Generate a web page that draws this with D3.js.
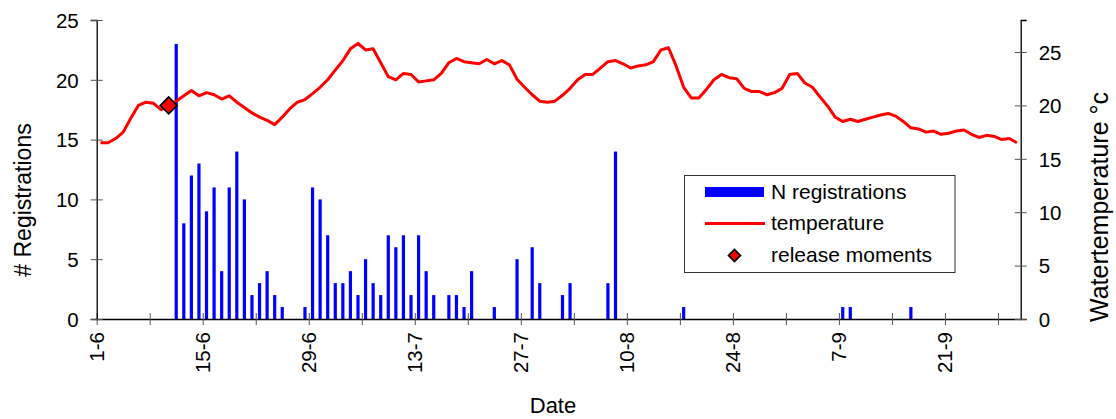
<!DOCTYPE html>
<html>
<head>
<meta charset="utf-8">
<script src="https://cdn.jsdelivr.net/npm/d3@7"></script>
<style>
  html, body { margin: 0; padding: 0; background: #fff; }
  svg { display: block; font-family: "Liberation Sans", Arial, sans-serif; }
</style>
</head>
<body>
<svg id="chart" width="1116" height="419"></svg>
<script>
// ---------- DATA ----------
const startDate = "2000-06-01";
const endDate = "2000-10-01";
// daily water temperature (°C), 1-6 .. 30-9
const temperature = [
  16.5, 16.5, 16.9, 17.5, 18.8, 20.0, 20.3, 20.2, 19.6, 20.0,
  20.4, 20.9, 21.4, 20.9, 21.2, 21.0, 20.6, 20.9, 20.3, 19.8,
  19.3, 18.9, 18.6, 18.2, 18.9, 19.7, 20.3, 20.55, 21.1, 21.7,
  22.4, 23.3, 24.2, 25.3, 25.8, 25.2, 25.3, 24.0, 22.7, 22.4,
  23.0, 22.9, 22.2, 22.3, 22.4, 23.0, 24.0, 24.4, 24.1, 24.0,
  23.9, 24.3, 23.9, 24.2, 23.8, 22.45, 21.7, 21.0, 20.4, 20.3,
  20.4, 20.95, 21.6, 22.4, 22.9, 22.9, 23.5, 24.1, 24.2, 23.9,
  23.5, 23.7, 23.8, 24.1, 25.2, 25.4, 23.7, 21.7, 20.7, 20.7,
  21.5, 22.4, 22.9, 22.6, 22.5, 21.6, 21.3, 21.3, 21.0, 21.2,
  21.6, 22.9, 23.0, 22.1, 21.7, 20.8, 19.95, 18.9, 18.5, 18.7,
  18.5, 18.7, 18.9, 19.1, 19.25, 19.0, 18.5, 17.9, 17.8, 17.5,
  17.6, 17.3, 17.4, 17.6, 17.7, 17.3, 17.0, 17.2, 17.1, 16.8,
  16.9, 16.5
];
// registrations per day
const barDates = [
  "2000-06-11", "2000-06-12", "2000-06-13", "2000-06-14", "2000-06-15", "2000-06-16",
  "2000-06-17", "2000-06-18", "2000-06-19", "2000-06-20", "2000-06-21", "2000-06-22",
  "2000-06-23", "2000-06-24", "2000-06-25", "2000-06-28", "2000-06-29", "2000-06-30",
  "2000-07-01", "2000-07-02", "2000-07-03", "2000-07-04", "2000-07-05", "2000-07-06",
  "2000-07-07", "2000-07-08", "2000-07-09", "2000-07-10", "2000-07-11", "2000-07-12",
  "2000-07-13", "2000-07-14", "2000-07-15", "2000-07-17", "2000-07-18", "2000-07-19",
  "2000-07-20", "2000-07-23", "2000-07-26", "2000-07-28", "2000-07-29", "2000-08-01",
  "2000-08-02", "2000-08-07", "2000-08-08", "2000-08-17", "2000-09-07", "2000-09-08",
  "2000-09-16"
];
const registrations = [
  23, 8, 12, 13, 9, 11,
  4, 11, 14, 10, 2, 3,
  4, 2, 1, 1, 11, 10,
  7, 3, 3, 4, 2, 5,
  3, 2, 7, 6, 7, 2,
  7, 4, 2, 2, 2, 1,
  4, 1, 5, 6, 3, 2,
  3, 3, 14, 1, 1, 1,
  1
];
const releaseDates = ["2000-06-10"];
const releaseTemps = [20];
const xTickLabels = ["1-6", "15-6", "29-6", "13-7", "27-7", "10-8", "24-8", "7-9", "21-9"];
const leftTicks = [0, 5, 10, 15, 20, 25];
const rightTicks = [0, 5, 10, 15, 20, 25];
const legendLabels = ["N registrations", "temperature", "release moments"];

// ---------- LAYOUT ----------
const svg = d3.select("#chart");
const X0 = 96.7, X1 = 1020.7, Y0 = 319, Y1 = 20;
const parse = d3.utcParse("%Y-%m-%d");
const mid = s => d3.utcHour.offset(parse(s), 12);

const x = d3.scaleUtc().domain([parse(startDate), parse(endDate)]).range([X0, X1]);
const yL = d3.scaleLinear().domain([0, 25]).range([Y0, Y1]);
const yR = d3.scaleLinear().domain([0, 28]).range([Y0, Y1]);

const fmt = d3.utcFormat("%-d-%-m");

// ---------- BARS ----------
svg.append("g").selectAll("rect").data(barDates).join("rect")
  .attr("x", (d) => x(mid(d)) - 1.6)
  .attr("width", 3.2)
  .attr("y", (d, i) => yL(registrations[i]))
  .attr("height", (d, i) => yL(0) - yL(registrations[i]))
  .attr("fill", "#0000ff");

// ---------- TEMPERATURE LINE ----------
const tempData = temperature.map((t, i) => ({ date: d3.utcHour.offset(d3.utcDay.offset(parse(startDate), i), 12), t }));
svg.append("path").datum(tempData)
  .attr("fill", "none").attr("stroke", "#ff0000").attr("stroke-width", 3)
  .attr("stroke-linejoin", "round")
  .attr("d", d3.line().x(d => x(d.date)).y(d => yR(d.t)));

// ---------- RELEASE MOMENTS ----------
const diamond = d3.symbol().type(d3.symbolSquare).size(140);
svg.append("g").selectAll("path").data(releaseDates).join("path")
  .attr("d", diamond)
  .attr("transform", (d, i) => `translate(${x(mid(d))},${yR(releaseTemps[i])}) rotate(45)`)
  .attr("fill", "#ff0000").attr("stroke", "#000").attr("stroke-width", 1.8);

// ---------- AXES ----------
const axisColor = "#000";
const tickFont = 20.5;

// x axis
const weekTicks = d3.utcDay.range(parse(startDate), parse(endDate), 7);
const gx = svg.append("g").attr("transform", `translate(0,${Y0})`);
gx.call(d3.axisBottom(x).tickValues(weekTicks).tickSizeInner(6).tickSizeOuter(0).tickFormat(""));
gx.select(".domain").attr("stroke", axisColor).attr("stroke-width", 1.3);
gx.selectAll(".tick line").attr("y1", -6).attr("y2", 6).attr("stroke", "#555");
gx.selectAll(".tick").filter(d => xTickLabels.includes(fmt(d)))
  .append("text")
  .attr("transform", "translate(0,13) rotate(-90)")
  .attr("x", 0).attr("y", 7)
  .attr("text-anchor", "end")
  .attr("fill", "#000")
  .attr("font-size", tickFont)
  .text(d => fmt(d));

// left axis
const gl = svg.append("g").attr("transform", `translate(${X0},0)`);
gl.call(d3.axisLeft(yL).tickValues(leftTicks).tickSizeOuter(0).tickSize(6).tickFormat(""));
gl.select(".domain").attr("stroke", axisColor).attr("stroke-width", 1.3);
gl.selectAll(".tick line").attr("x1", -6).attr("x2", 6).attr("stroke", "#555");
gl.selectAll(".tick").append("text")
  .attr("x", -18).attr("dy", "0.36em")
  .attr("text-anchor", "end").attr("fill", "#000")
  .attr("font-size", tickFont)
  .text(d => d);

// right axis
const gr = svg.append("g").attr("transform", `translate(${X1},0)`);
gr.call(d3.axisRight(yR).tickValues(rightTicks).tickSizeOuter(0).tickSize(6).tickFormat(""));
gr.select(".domain").attr("stroke", axisColor).attr("stroke-width", 1.3);
gr.selectAll(".tick line").attr("x1", -6).attr("x2", 6).attr("stroke", "#555");
gr.selectAll(".tick").append("text")
  .attr("x", 18).attr("dy", "0.36em")
  .attr("text-anchor", "start").attr("fill", "#000")
  .attr("font-size", tickFont)
  .text(d => d);

// axis titles
svg.append("text").attr("transform", "translate(31,200) rotate(-90)")
  .attr("text-anchor", "middle").attr("font-size", 23).attr("fill", "#000")
  .text("# Registrations");
svg.append("text").attr("transform", "translate(1108,207) rotate(-90)")
  .attr("text-anchor", "middle").attr("font-size", 25).attr("fill", "#000")
  .text("Watertemperature  °c");
svg.append("text").attr("x", 553).attr("y", 413)
  .attr("text-anchor", "middle").attr("font-size", 22).attr("fill", "#000")
  .text("Date");

// ---------- LEGEND ----------
const lg = svg.append("g");
lg.append("rect").attr("x", 684.5).attr("y", 175.5).attr("width", 270.5).attr("height", 97)
  .attr("fill", "#fff").attr("stroke", "#333").attr("stroke-width", 1);
const legFont = 21;
lg.append("rect").attr("x", 705).attr("y", 187).attr("width", 59).attr("height", 10).attr("fill", "#0000ff");
lg.append("line").attr("x1", 705).attr("x2", 765).attr("y1", 223.5).attr("y2", 223.5)
  .attr("stroke", "#ff0000").attr("stroke-width", 3);
lg.append("path").attr("d", d3.symbol().type(d3.symbolSquare).size(70))
  .attr("transform", "translate(734.5,255.5) rotate(45)")
  .attr("fill", "#ff0000").attr("stroke", "#000").attr("stroke-width", 1.8);
const legY = [199, 230, 262];
lg.selectAll("text.leg").data(legendLabels).join("text").attr("class", "leg")
  .attr("x", 771).attr("y", (d, i) => legY[i])
  .attr("font-size", legFont).attr("fill", "#000")
  .text(d => d);
</script>
</body>
</html>
